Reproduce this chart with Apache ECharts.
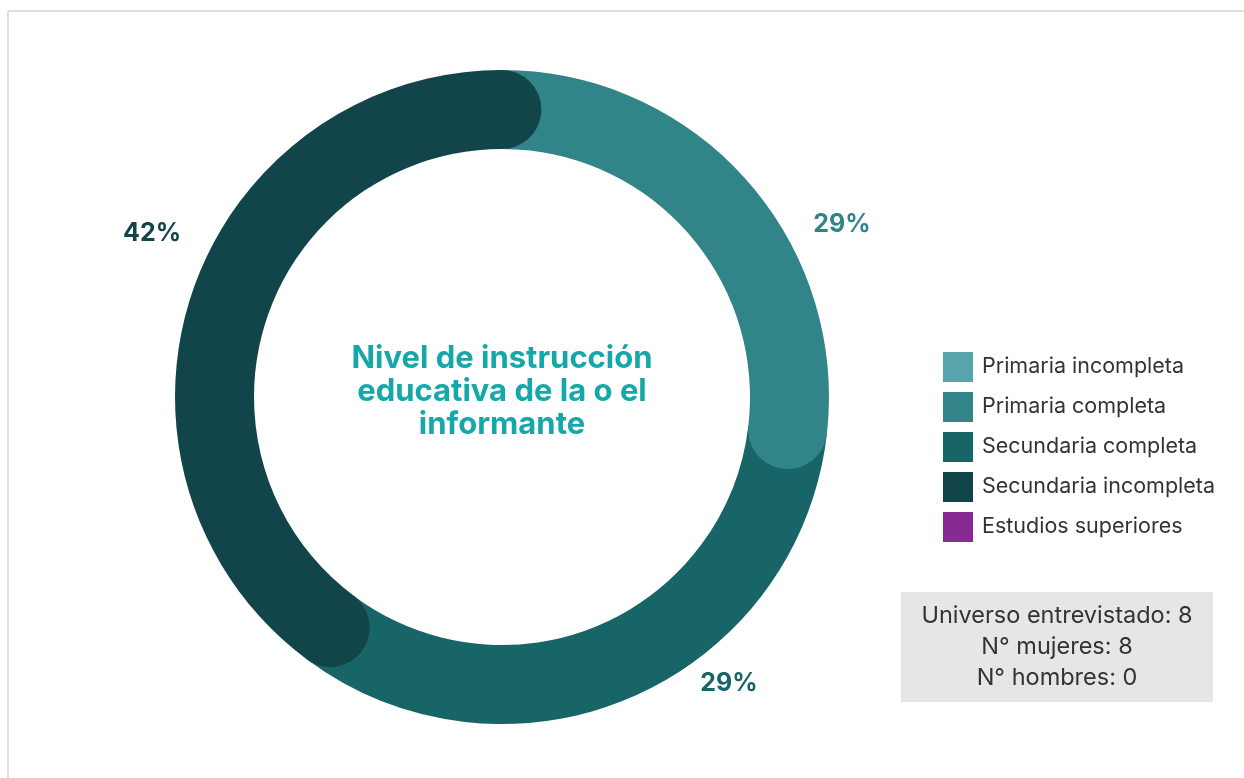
<!DOCTYPE html>
<html>
<head>
<meta charset="utf-8">
<script src="https://cdn.jsdelivr.net/npm/echarts@6/dist/echarts.min.js"></script>
<style>
html, body { margin: 0; padding: 0; background: #fff; }
#chart { width: 1244px; height: 778px; }
</style>
</head>
<body>
<div id="chart"></div>
<script>
// datos del gráfico
var categories = ['Primaria incompleta', 'Primaria completa', 'Secundaria completa', 'Secundaria incompleta', 'Estudios superiores'];
var percents = [0, 29, 29, 42, 0];
var colors = ['#58a4ac', '#318488', '#186567', '#12454a', '#882a93'];
var summaryLines = ['Universo entrevistado: 8', 'N° mujeres: 8', 'N° hombres: 0'];
var centerTitle = 'Nivel de instrucción\neducativa de la o el\ninformante';

var FONT = 'Inter, "Noto Sans", sans-serif';
var cx = 502, cy = 397, r0 = 248, r1 = 327;
// angulo que ocupa el remate redondeado (medio ancho del anillo)
var capDeg = ((r1 - r0) / 2) / ((r0 + r1) / 2) * 180 / Math.PI;

function arcSeries(color, a0, a1, rounded) {
	var span = a1 - a0;
	return {
		type: 'pie',
		silent: true,
		animation: false,
		center: [cx, cy],
		radius: [r0, r1],
		startAngle: ((90 - a0) % 360 + 360) % 360,
		clockwise: true,
		label: { show: false },
		labelLine: { show: false },
		emphasis: { disabled: true },
		itemStyle: { borderRadius: rounded ? (r1 - r0) / 2 : 0, borderWidth: 0 },
		data: [
			{ value: span, itemStyle: { color: color } },
			{ value: 360 - span, itemStyle: { color: 'rgba(0,0,0,0)' } }
		]
	};
}

var total = 0;
for (var i = 0; i < percents.length; i++) total += percents[i];

// segmentos visibles con sus angulos (desde las 12, sentido horario)
var segs = [];
var acc = 0;
for (var i = 0; i < percents.length; i++) {
	if (percents[i] > 0) {
		var a0 = acc / total * 360;
		acc += percents[i];
		segs.push({ idx: i, a0: a0, a1: acc / total * 360 });
	}
}

var series = [];
// los del medio: sin redondeo, extendidos por debajo de los remates vecinos
for (var k = 1; k < segs.length - 1; k++) {
	series.push(arcSeries(colors[segs[k].idx], segs[k].a0 - capDeg, segs[k].a1 + capDeg, false));
}
// el primero: redondeado, su inicio queda bajo el ultimo
var first = segs[0];
series.push(arcSeries(colors[first.idx], first.a0 - capDeg, first.a1, true));
// el ultimo: redondeado, su final monta sobre el primero
var last = segs[segs.length - 1];
series.push(arcSeries(colors[last.idx], last.a0, last.a1 + capDeg, true));

// serie oculta solo para la leyenda
series.push({
	type: 'pie',
	silent: true,
	animation: false,
	center: [cx, cy],
	radius: [0, 0],
	label: { show: false },
	labelLine: { show: false },
	data: categories.map(function (c, i) {
		return { name: c, value: percents[i], itemStyle: { color: colors[i] } };
	})
});

// posiciones de las etiquetas de porcentaje
var labelPos = { 1: [842, 224], 2: [729, 683], 3: [152, 233] };
var graphics = [
	{ type: 'line', shape: { x1: 8, y1: 11, x2: 1244, y2: 11 }, style: { stroke: '#dedede', lineWidth: 2 } },
	{ type: 'line', shape: { x1: 8, y1: 11, x2: 8, y2: 778 }, style: { stroke: '#dedede', lineWidth: 2 } },
	{
		type: 'text', x: cx, y: 392,
		style: {
			text: centerTitle, align: 'center', verticalAlign: 'middle',
			fill: '#16a8a9', font: 'bold 31px ' + FONT, lineHeight: 33
		}
	},
	{ type: 'rect', shape: { x: 901, y: 592, width: 312, height: 110 }, style: { fill: '#e6e6e7' } },
	{
		type: 'text', x: 1057, y: 647,
		style: {
			text: summaryLines.join('\n'), align: 'center', verticalAlign: 'middle',
			fill: '#333', font: '23.5px ' + FONT, lineHeight: 31
		}
	}
];
segs.forEach(function (s) {
	var p = labelPos[s.idx];
	if (!p) return;
	graphics.push({
		type: 'text', x: p[0], y: p[1],
		style: {
			text: percents[s.idx] + '%', align: 'center', verticalAlign: 'middle',
			fill: colors[s.idx], font: 'bold 25px ' + FONT
		}
	});
});

var chart = echarts.init(document.getElementById('chart'));
chart.setOption({
	backgroundColor: '#fff',
	animation: false,
	legend: {
		orient: 'vertical',
		left: 938,
		top: 347,
		icon: 'rect',
		itemWidth: 30,
		itemHeight: 30,
		itemGap: 10,
		selectedMode: false,
		data: categories,
		textStyle: { fontSize: 21.5, color: '#333', fontFamily: FONT, padding: [0, 0, 0, 4] }
	},
	series: series,
	graphic: graphics
});
</script>
</body>
</html>
